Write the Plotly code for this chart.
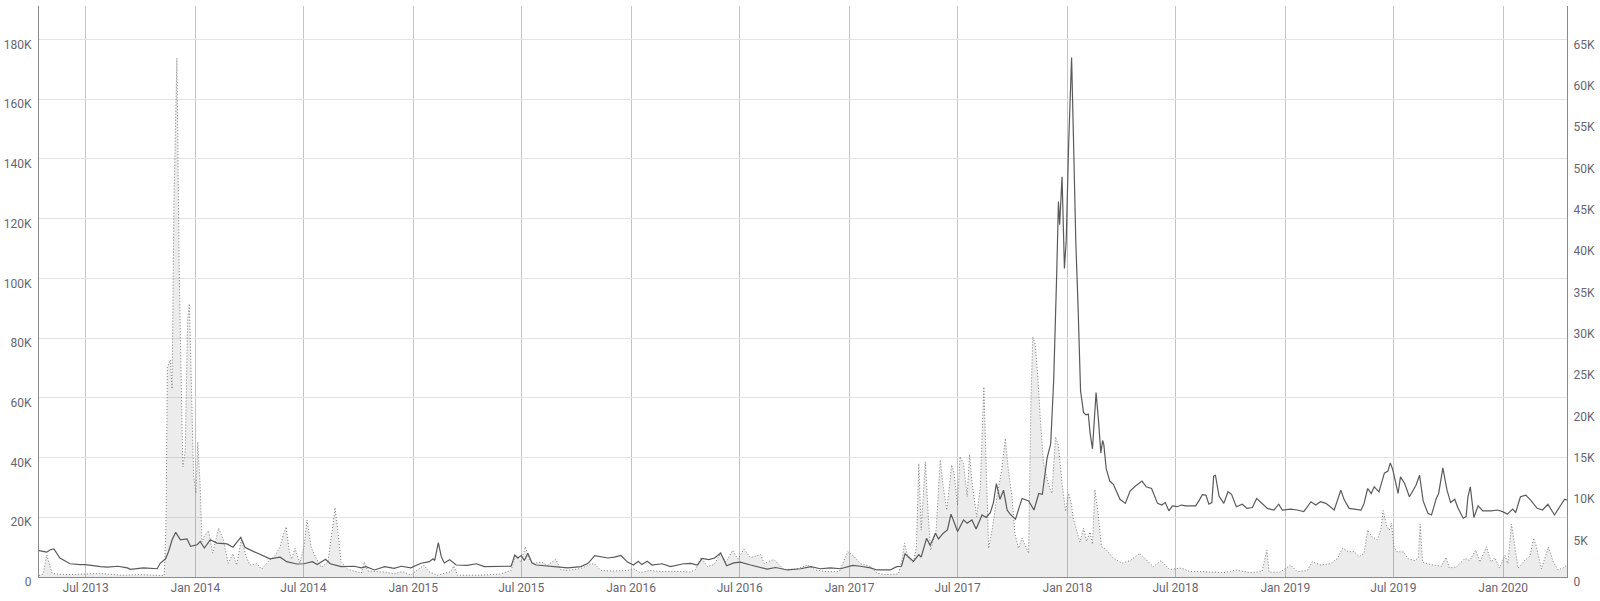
import plotly.graph_objects as go

# Dotted series with filled area (left axis), values in thousands
d_dates = [
    "2013-04-14", "2013-04-21", "2013-04-27", "2013-05-03", "2013-05-06", "2013-05-19", "2013-06-05",
    "2013-07-01", "2013-07-26", "2013-08-29", "2013-10-01", "2013-11-03", "2013-11-10", "2013-11-13",
    "2013-11-15", "2013-11-20", "2013-11-23", "2013-11-26", "2013-12-01", "2013-12-05", "2013-12-11",
    "2013-12-15", "2013-12-19", "2013-12-22", "2013-12-25", "2013-12-29", "2014-01-02", "2014-01-05",
    "2014-01-09", "2014-01-12", "2014-01-17", "2014-01-23", "2014-01-30", "2014-02-09", "2014-02-17",
    "2014-02-25", "2014-03-05", "2014-03-11", "2014-03-19", "2014-03-27", "2014-04-02", "2014-04-14",
    "2014-04-22", "2014-05-03", "2014-05-14", "2014-05-23", "2014-05-28", "2014-06-02", "2014-06-07",
    "2014-06-11", "2014-06-17", "2014-06-25", "2014-07-02", "2014-07-07", "2014-07-14", "2014-07-22",
    "2014-07-31", "2014-08-11", "2014-08-19", "2014-08-23", "2014-08-28", "2014-09-02", "2014-09-13",
    "2014-09-24", "2014-10-06", "2014-10-11", "2014-10-17", "2014-11-02", "2014-11-16", "2014-11-30",
    "2014-12-14", "2014-12-28", "2015-01-14", "2015-01-19", "2015-01-27", "2015-02-10", "2015-03-05",
    "2015-03-10", "2015-03-16", "2015-04-24", "2015-05-27", "2015-06-14", "2015-06-22", "2015-06-30",
    "2015-07-08", "2015-07-14", "2015-07-22", "2015-08-03", "2015-08-14", "2015-08-28", "2015-09-05",
    "2015-09-16", "2015-10-08", "2015-10-31", "2015-11-11", "2015-12-03", "2015-12-26", "2016-01-05",
    "2016-01-16", "2016-02-02", "2016-02-19", "2016-03-15", "2016-04-10", "2016-04-18", "2016-04-27",
    "2016-05-08", "2016-05-19", "2016-05-30", "2016-06-08", "2016-06-19", "2016-06-28", "2016-07-08",
    "2016-07-19", "2016-08-05", "2016-08-11", "2016-08-27", "2016-09-13", "2016-10-03", "2016-10-23",
    "2016-11-05", "2016-11-25", "2016-12-15", "2016-12-23", "2016-12-29", "2017-01-08", "2017-01-19",
    "2017-02-05", "2017-02-16", "2017-03-02", "2017-03-24", "2017-03-30", "2017-04-03", "2017-04-10",
    "2017-04-18", "2017-04-23", "2017-04-27", "2017-05-01", "2017-05-04", "2017-05-08", "2017-05-13",
    "2017-05-17", "2017-05-26", "2017-06-02", "2017-06-07", "2017-06-13", "2017-06-21", "2017-06-25",
    "2017-07-01", "2017-07-05", "2017-07-11", "2017-07-17", "2017-07-21", "2017-07-25", "2017-08-02",
    "2017-08-08", "2017-08-14", "2017-08-19", "2017-08-22", "2017-08-28", "2017-09-05", "2017-09-13",
    "2017-09-19", "2017-09-24", "2017-09-30", "2017-10-05", "2017-10-11", "2017-10-17", "2017-10-22",
    "2017-10-28", "2017-11-01", "2017-11-04", "2017-11-08", "2017-11-12", "2017-11-17", "2017-11-22",
    "2017-12-01", "2017-12-06", "2017-12-12", "2017-12-17", "2017-12-23", "2017-12-29", "2018-01-03",
    "2018-01-07", "2018-01-11", "2018-01-19", "2018-01-22", "2018-01-28", "2018-02-02", "2018-02-08",
    "2018-02-12", "2018-02-16", "2018-02-21", "2018-02-27", "2018-03-08", "2018-03-18", "2018-04-02",
    "2018-04-16", "2018-05-02", "2018-05-12", "2018-05-25", "2018-06-07", "2018-06-21", "2018-07-11",
    "2018-07-25", "2018-08-11", "2018-09-05", "2018-09-22", "2018-10-11", "2018-11-03", "2018-11-23",
    "2018-12-01", "2018-12-05", "2018-12-23", "2019-01-10", "2019-01-21", "2019-02-07", "2019-02-15",
    "2019-03-01", "2019-03-18", "2019-03-29", "2019-04-07", "2019-04-17", "2019-04-26", "2019-05-05",
    "2019-05-13", "2019-05-19", "2019-05-26", "2019-06-04", "2019-06-10", "2019-06-14", "2019-06-20",
    "2019-06-24", "2019-06-28", "2019-07-02", "2019-07-07", "2019-07-18", "2019-07-26", "2019-08-06",
    "2019-08-12", "2019-08-15", "2019-08-19", "2019-09-01", "2019-09-20", "2019-09-27", "2019-10-03",
    "2019-10-15", "2019-10-29", "2019-11-06", "2019-11-16", "2019-11-23", "2019-12-04", "2019-12-12",
    "2019-12-18", "2019-12-26", "2020-01-04", "2020-01-09", "2020-01-15", "2020-01-20", "2020-01-26",
    "2020-02-06", "2020-02-15", "2020-02-21", "2020-02-26", "2020-03-05", "2020-03-17", "2020-03-25",
    "2020-04-02", "2020-04-10", "2020-04-17",
]
d_values = [
    0.5, 1.0, 7.4, 3.0, 1.2, 0.9, 0.8,
    1.0, 1.2, 0.6, 0.8, 0.5, 0.5, 20.0,
    70.0, 72.7, 63.0, 124.5, 173.8, 100.9, 36.9,
    42.2, 85.7, 91.5, 65.7, 34.0, 28.1, 45.2,
    30.5, 11.7, 14.1, 15.5, 8.0, 16.4, 12.4,
    4.6, 7.8, 4.0, 12.4, 7.0, 4.0, 4.5,
    2.6, 5.2, 7.0, 10.1, 14.0, 16.8, 9.0,
    6.0, 9.6, 4.7, 10.0, 19.1, 10.0, 6.4,
    3.2, 5.0, 16.8, 23.2, 15.0, 5.2, 2.6,
    2.1, 1.3, 5.0, 2.0, 1.8, 1.6, 1.1,
    1.8, 0.7, 3.2, 4.0, 1.8, 0.6, 1.8,
    3.7, 0.6, 0.6, 1.0, 2.2, 7.4, 5.0,
    10.1, 6.0, 4.6, 5.0, 4.0, 5.9, 2.5,
    2.2, 2.8, 4.6, 2.2, 2.0, 2.2, 2.8,
    1.5, 2.2, 1.8, 1.9, 1.7, 2.5, 6.5,
    3.5, 4.2, 7.9, 5.0, 8.9, 6.0, 9.3,
    6.5, 7.5, 4.5, 5.9, 2.5, 2.6, 4.0,
    2.3, 1.8, 1.8, 5.7, 8.5, 7.0, 4.5,
    3.5, 1.3, 0.8, 1.0, 5.9, 11.3, 6.0,
    4.7, 10.0, 38.0, 15.7, 26.0, 38.6, 20.0,
    9.0, 15.7, 39.2, 30.0, 22.4, 37.5, 35.0,
    24.0, 40.3, 38.0, 26.9, 41.0, 32.0, 20.2,
    30.0, 63.7, 28.0, 9.6, 16.0, 26.9, 36.0,
    46.4, 36.0, 26.9, 14.6, 9.6, 13.0, 10.4,
    7.9, 60.0, 80.4, 78.0, 68.0, 52.0, 38.0,
    30.5, 28.0, 46.9, 44.0, 31.4, 22.0, 28.0,
    25.0, 19.5, 14.0, 11.7, 16.3, 12.0, 15.0,
    11.0, 29.2, 22.0, 10.2, 9.0, 6.5, 4.6,
    5.5, 7.9, 6.0, 3.4, 5.5, 2.5, 3.0,
    1.8, 1.8, 1.6, 1.5, 2.3, 1.5, 1.8,
    9.0, 1.6, 1.6, 4.0, 1.8, 2.2, 5.1,
    4.0, 4.5, 6.1, 9.6, 8.5, 8.5, 6.8,
    8.0, 15.7, 13.5, 12.5, 15.7, 22.2, 17.0,
    15.7, 18.0, 10.1, 8.5, 8.4, 6.1, 5.5,
    6.5, 17.7, 5.0, 4.2, 3.6, 6.6, 3.0,
    3.4, 6.2, 5.5, 9.0, 5.0, 10.1, 5.0,
    6.5, 3.0, 7.3, 4.5, 17.7, 11.0, 3.0,
    5.5, 7.0, 13.0, 10.0, 2.7, 10.1, 5.0,
    2.4, 3.0, 4.0,
]

# Solid series (right axis), values in thousands
s_dates = [
    "2013-04-14", "2013-04-27", "2013-05-03", "2013-05-09", "2013-05-19", "2013-06-05", "2013-06-22",
    "2013-07-01", "2013-07-26", "2013-08-07", "2013-08-24", "2013-09-09", "2013-09-14", "2013-10-06",
    "2013-10-29", "2013-11-03", "2013-11-12", "2013-11-17", "2013-11-23", "2013-11-29", "2013-12-07",
    "2013-12-18", "2013-12-24", "2014-01-04", "2014-01-09", "2014-01-16", "2014-01-26", "2014-02-06",
    "2014-02-23", "2014-03-05", "2014-03-18", "2014-03-25", "2014-04-08", "2014-04-25", "2014-05-06",
    "2014-05-23", "2014-06-03", "2014-06-20", "2014-07-02", "2014-07-16", "2014-07-24", "2014-08-07",
    "2014-08-15", "2014-09-02", "2014-09-24", "2014-10-06", "2014-10-14", "2014-10-28", "2014-11-14",
    "2014-11-30", "2014-12-12", "2014-12-28", "2015-01-01", "2015-01-14", "2015-01-28", "2015-02-03",
    "2015-02-06", "2015-02-12", "2015-02-17", "2015-02-22", "2015-03-03", "2015-03-14", "2015-04-01",
    "2015-04-17", "2015-04-30", "2015-05-28", "2015-06-14", "2015-06-20", "2015-06-25", "2015-07-01",
    "2015-07-06", "2015-07-12", "2015-07-19", "2015-07-26", "2015-08-20", "2015-09-17", "2015-10-09",
    "2015-10-21", "2015-11-01", "2015-11-12", "2015-11-23", "2015-12-04", "2015-12-15", "2015-12-26",
    "2016-01-05", "2016-01-13", "2016-01-19", "2016-01-28", "2016-02-05", "2016-02-22", "2016-03-07",
    "2016-03-29", "2016-04-10", "2016-04-21", "2016-04-29", "2016-05-10", "2016-05-20", "2016-05-30",
    "2016-06-04", "2016-06-09", "2016-06-21", "2016-07-02", "2016-07-19", "2016-08-05", "2016-08-16",
    "2016-08-30", "2016-09-19", "2016-10-11", "2016-10-28", "2016-11-13", "2016-11-30", "2016-12-17",
    "2016-12-28", "2017-01-06", "2017-01-19", "2017-02-05", "2017-02-16", "2017-03-10", "2017-03-21",
    "2017-03-29", "2017-04-04", "2017-04-18", "2017-04-27", "2017-05-01", "2017-05-10", "2017-05-16",
    "2017-05-25", "2017-05-30", "2017-06-07", "2017-06-14", "2017-06-20", "2017-07-01", "2017-07-11",
    "2017-07-17", "2017-07-25", "2017-08-01", "2017-08-11", "2017-08-18", "2017-08-25", "2017-08-30",
    "2017-09-04", "2017-09-10", "2017-09-16", "2017-09-22", "2017-09-27", "2017-10-06", "2017-10-17",
    "2017-10-28", "2017-11-06", "2017-11-14", "2017-11-20", "2017-11-28", "2017-12-04", "2017-12-09",
    "2017-12-14", "2017-12-17", "2017-12-19", "2017-12-23", "2017-12-27", "2017-12-30", "2018-01-03",
    "2018-01-08", "2018-01-11", "2018-01-15", "2018-01-19", "2018-01-23", "2018-01-28", "2018-02-01",
    "2018-02-05", "2018-02-08", "2018-02-12", "2018-02-15", "2018-02-18", "2018-02-22", "2018-02-26",
    "2018-03-01", "2018-03-03", "2018-03-07", "2018-03-13", "2018-03-19", "2018-03-25", "2018-03-30",
    "2018-04-08", "2018-04-16", "2018-04-25", "2018-05-06", "2018-05-13", "2018-05-22", "2018-06-01",
    "2018-06-08", "2018-06-14", "2018-06-20", "2018-06-26", "2018-07-04", "2018-07-11", "2018-07-18",
    "2018-07-26", "2018-08-04", "2018-08-10", "2018-08-15", "2018-08-21", "2018-08-26", "2018-08-31",
    "2018-09-03", "2018-09-06", "2018-09-12", "2018-09-20", "2018-09-27", "2018-10-03", "2018-10-11",
    "2018-10-21", "2018-10-29", "2018-11-07", "2018-11-14", "2018-11-20", "2018-12-02", "2018-12-13",
    "2018-12-21", "2018-12-27", "2019-01-10", "2019-01-21", "2019-02-01", "2019-02-13", "2019-02-21",
    "2019-03-01", "2019-03-10", "2019-03-24", "2019-04-04", "2019-04-10", "2019-04-18", "2019-05-08",
    "2019-05-13", "2019-05-19", "2019-05-25", "2019-05-30", "2019-06-07", "2019-06-16", "2019-06-22",
    "2019-06-26", "2019-06-30", "2019-07-09", "2019-07-13", "2019-07-20", "2019-07-28", "2019-08-08",
    "2019-08-14", "2019-08-20", "2019-08-28", "2019-09-03", "2019-09-11", "2019-09-15", "2019-09-22",
    "2019-09-29", "2019-10-05", "2019-10-12", "2019-10-17", "2019-10-26", "2019-10-31", "2019-11-03",
    "2019-11-07", "2019-11-13", "2019-11-20", "2019-11-28", "2019-12-12", "2019-12-23", "2019-12-31",
    "2020-01-08", "2020-01-17", "2020-01-22", "2020-01-30", "2020-02-08", "2020-02-16", "2020-02-27",
    "2020-03-07", "2020-03-16", "2020-03-27", "2020-04-04", "2020-04-13", "2020-04-17",
]
s_values = [
    3.2, 3.0, 3.3, 3.4, 2.3, 1.6, 1.5,
    1.5, 1.25, 1.2, 1.3, 1.1, 0.93, 1.1,
    1.0, 1.66, 2.2, 3.06, 4.5, 5.4, 4.5,
    4.6, 3.7, 3.9, 4.3, 3.5, 4.5, 4.1,
    4.0, 3.6, 4.8, 3.6, 3.1, 2.6, 2.2,
    2.4, 1.85, 1.57, 1.6, 1.85, 1.5, 2.14,
    1.6, 1.25, 1.3, 1.1, 1.25, 0.85, 1.25,
    1.05, 1.3, 1.1, 1.25, 1.66, 1.85, 2.2,
    2.0, 4.15, 2.46, 1.7, 2.1, 1.45, 1.4,
    1.6, 1.25, 1.3, 1.3, 2.66, 2.3, 2.6,
    2.0, 2.87, 1.7, 1.45, 1.25, 1.1, 1.25,
    1.66, 2.58, 2.4, 2.3, 2.4, 2.6, 1.8,
    1.45, 1.9, 1.5, 1.9, 1.45, 1.6, 1.25,
    1.6, 1.65, 1.45, 2.26, 2.1, 2.3, 2.9,
    2.2, 1.35, 1.7, 1.8, 1.45, 1.2, 0.95,
    1.15, 0.85, 1.0, 1.25, 1.0, 1.1, 1.0,
    1.2, 1.4, 1.3, 1.1, 0.85, 0.85, 1.25,
    1.3, 2.8, 1.9, 2.7, 2.4, 4.68, 3.8,
    5.3, 4.6, 5.3, 5.7, 7.6, 5.5, 6.9,
    6.5, 6.9, 5.8, 7.5, 7.2, 7.8, 9.0,
    11.3, 9.4, 10.5, 8.1, 7.6, 7.0, 9.5,
    9.2, 8.1, 10.1, 10.0, 14.4, 16.1, 23.8,
    36.5, 45.4, 42.6, 48.4, 37.3, 40.7, 52.2,
    62.8, 53.5, 40.7, 32.3, 22.5, 19.9, 19.6,
    19.7, 17.4, 15.5, 19.5, 22.3, 19.0, 15.0,
    16.5, 16.0, 13.1, 11.6, 11.2, 10.2, 9.4,
    8.9, 10.4, 11.0, 11.6, 10.9, 10.7, 8.9,
    8.7, 9.0, 8.0, 8.6, 8.5, 8.7, 8.6,
    8.6, 8.6, 9.3, 9.95, 9.9, 8.8, 9.0,
    12.2, 12.3, 9.8, 8.9, 10.3, 10.0, 8.5,
    8.8, 8.3, 8.4, 9.5, 9.1, 8.3, 8.1,
    8.8, 8.1, 8.2, 8.1, 7.9, 9.1, 8.7,
    9.1, 8.9, 8.1, 10.5, 9.3, 8.3, 8.1,
    8.9, 10.7, 10.1, 10.9, 10.3, 12.55, 12.8,
    13.8, 13.0, 10.1, 12.1, 11.3, 9.7, 11.1,
    12.3, 9.2, 7.7, 7.5, 9.5, 10.1, 13.2,
    10.5, 9.0, 9.4, 8.4, 7.1, 7.3, 9.7,
    10.9, 7.2, 8.6, 8.0, 8.0, 8.1, 7.9,
    7.6, 8.2, 7.8, 9.7, 9.9, 9.3, 8.3,
    8.1, 8.8, 7.5, 8.4, 9.4, 9.3,
]

left_ticks = [0, 20, 40, 60, 80, 100, 120, 140, 160, 180]
left_tick_text = ["0", "20K", "40K", "60K", "80K", "100K", "120K", "140K", "160K", "180K"]
right_ticks = [0, 5, 10, 15, 20, 25, 30, 35, 40, 45, 50, 55, 60, 65]
right_tick_text = ["0", "5K", "10K", "15K", "20K", "25K", "30K", "35K", "40K", "45K",
                   "50K", "55K", "60K", "65K"]

label_font = dict(family="Roboto, Arial, sans-serif", size=12, color="#666672")

fig = go.Figure()
fig.add_trace(go.Scatter(
    x=d_dates, y=d_values, mode="lines", yaxis="y",
    line=dict(color="#7a7a7a", width=1, dash="1px,2px"),
    fill="tozeroy", fillcolor="rgba(0,0,0,0.075)",
    hoverinfo="skip", showlegend=False,
))
fig.add_trace(go.Scatter(
    x=s_dates, y=s_values, mode="lines", yaxis="y2",
    line=dict(color="#5a5a5a", width=1.2),
    hoverinfo="skip", showlegend=False,
))

fig.update_layout(
    width=1600, height=601,
    margin=dict(l=39, r=33, t=6, b=24, autoexpand=False),
    paper_bgcolor="white", plot_bgcolor="white",
    showlegend=False,
    xaxis=dict(
        type="date", range=["2013-04-14", "2020-04-17"],
        dtick="M6", tick0="2013-01-01", tickformat="%b %Y",
        showgrid=True, gridcolor="#c4c4c4", gridwidth=1,
        showline=True, linecolor="#8a8a8a", linewidth=1,
        ticks="", tickfont=label_font, zeroline=False, automargin=False,
    ),
    yaxis=dict(
        range=[0, 191.2], tickvals=left_ticks, ticktext=left_tick_text,
        showgrid=True, gridcolor="#e3e3e3", gridwidth=1,
        showline=True, linecolor="#8a8a8a", linewidth=1,
        ticks="", tickfont=label_font, zeroline=False, automargin=False,
        ticklabelstandoff=4, ticklabelshift=5,
    ),
    yaxis2=dict(
        range=[0, 69.04], tickvals=right_ticks, ticktext=right_tick_text,
        overlaying="y", side="right", showgrid=False,
        showline=True, linecolor="#8a8a8a", linewidth=1,
        ticks="", tickfont=label_font, zeroline=False, automargin=False,
        ticklabelstandoff=3, ticklabelshift=5,
    ),
)

fig.write_html("out.html", config={"displayModeBar": False},
               post_script="document.body.style.margin='0';")
